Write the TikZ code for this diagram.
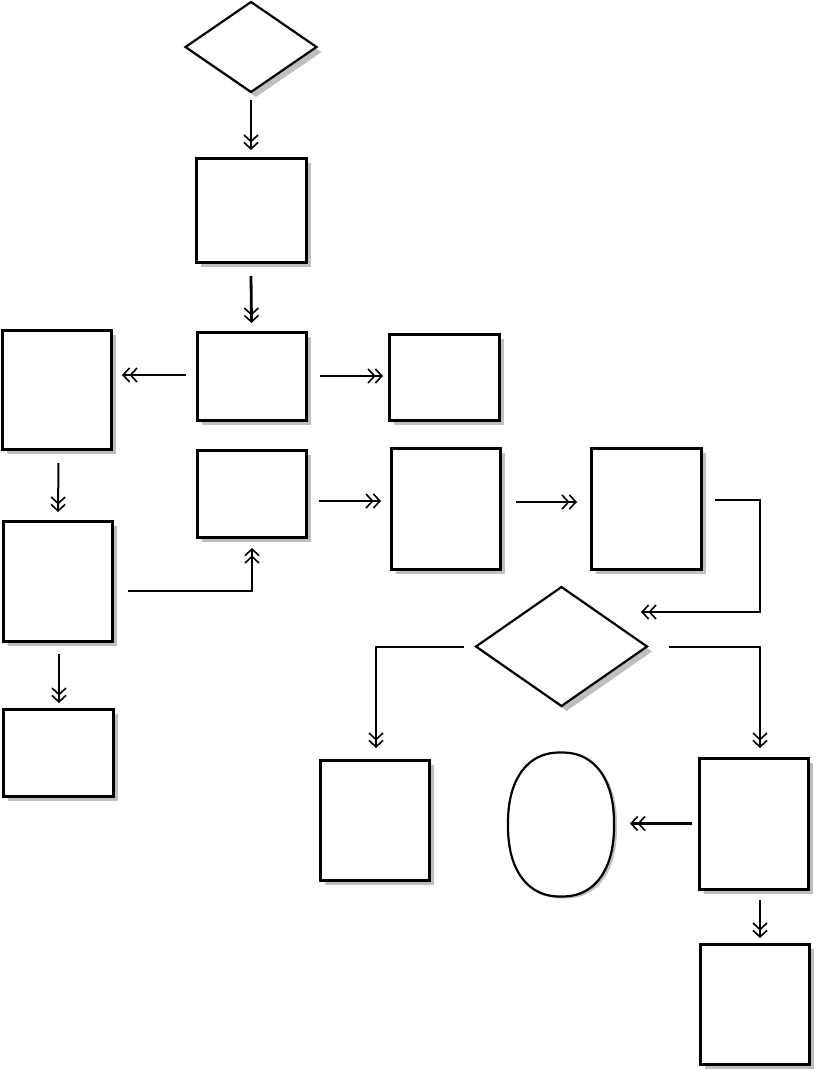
\documentclass[tikz,border=0pt]{standalone}
\usetikzlibrary{shapes.geometric,shadows,arrows.meta,calc}
\begin{document}
\begin{tikzpicture}[x=1pt,y=-1pt,
  shad/.style={drop shadow={shadow xshift=5pt,shadow yshift=-5pt,fill=black!25,opacity=1}},
  box/.style={draw,line width=3pt,fill=white,inner sep=0pt,outer sep=0pt,shad},
  dia/.style={diamond,draw,line width=2.2pt,fill=white,inner sep=0pt,outer sep=0pt,shad},
  arr/.style={line width=2pt,-{Straight Barb[length=6.5pt,width=14pt,line width=1.6pt,sep=-1pt]Straight Barb[length=6.5pt,width=14pt,line width=1.6pt]}},
  arrthick/.style={arr,line width=2.8pt}]
\useasboundingbox (0,0) rectangle (815,1070);
\fill[white] (0,0) rectangle (815,1070);
% nodes
\node[dia,minimum width=131pt,minimum height=90pt] (d1) at (251,47) {};
\node[box,minimum width=110pt,minimum height=104pt] (b1) at (251,210) {};
\node[box,minimum width=109pt,minimum height=88pt] (b2) at (251.5,376) {};
\node[box,minimum width=109pt,minimum height=119pt] (b3) at (56.5,389.5) {};
\node[box,minimum width=110pt,minimum height=86pt] (b4) at (444,377) {};
\node[box,minimum width=109pt,minimum height=87pt] (b5) at (251.5,493.5) {};
\node[box,minimum width=109pt,minimum height=121pt] (b6) at (445.5,508.5) {};
\node[box,minimum width=110pt,minimum height=121pt] (b7) at (646,508.5) {};
\node[dia,minimum width=171pt,minimum height=119pt] (d2) at (561.5,646.5) {};
\node[box,minimum width=109pt,minimum height=120pt] (b8) at (374.5,820) {};
\node[box,minimum width=109pt,minimum height=131pt] (b9) at (753.5,823.5) {};
\node[ellipse,minimum width=106pt,minimum height=144pt,inner sep=0pt,outer sep=0pt] (e1) at (561,824.5) {};
\fill[black!25,shift={($(e1.center)+(3,2)$)}] plot[domain=0:360,samples=120,smooth cycle]
  ({53*sign(cos(\x))*(abs(cos(\x))+0.0001)^0.87},{72*sign(sin(\x))*(abs(sin(\x))+0.0001)^0.87});
\draw[line width=2.2pt,fill=white,shift={(e1.center)}] plot[domain=0:360,samples=120,smooth cycle]
  ({53*sign(cos(\x))*(abs(cos(\x))+0.0001)^0.87},{72*sign(sin(\x))*(abs(sin(\x))+0.0001)^0.87});
\node[box,minimum width=109pt,minimum height=120pt] (b10) at (754.5,1004) {};
\node[box,minimum width=109pt,minimum height=120pt] (b11) at (57.5,581) {};
\node[box,minimum width=110pt,minimum height=87pt] (b12) at (58,752.5) {};
% connectors
\draw[arr] ($(d1.south)+(0,8)$) -- ($(b1.north)+(0,-8)$);
\draw[arrthick] ($(b1.south)+(0,14)$) -- ($(b2.north)+(0,-9)$);
\draw[arr] ($(b2.west)+(-11,-1)$) -- ($(b3.east)+(11,-14.5)$);
\draw[arr] ($(b2.east)+(14,0)$) -- ($(b4.west)+(-6,-1)$);
\draw[arr] ($(b5.east)+(13,7.5)$) -- ($(b6.west)+(-10,-7.5)$);
\draw[arr] ($(b6.east)+(16,-6.5)$) -- ($(b7.west)+(-14,-6.5)$);
\coordinate (e7) at ($(d2.center)+(79.5,-34.5)$);
\draw[arr] ($(b7.east)+(14,-8.5)$) -- ++(45,0) |- (e7);
\draw[arr] ($(d2.west)+(-12,0)$) -| ($(b8.north)+(1.5,-12)$);
\draw[arr] ($(d2.east)+(22,0)$) -| ($(b9.north)+(6.5,-10)$);
\coordinate (s10) at ($(b9.west)+(-7,0)$);
\coordinate (t10) at ($(e1.east)+(16,0)$);
\draw[arrthick] (s10) -- (s10 -| t10);
\draw[arr] ($(b9.south)+(6.5,11)$) -- ($(b10.north)+(5.5,-6)$);
\draw[arr] ($(b3.south)+(2,14)$) -- ($(b11.north)+(0.5,-9)$);
\draw[arr] ($(b11.south)+(1.5,13)$) -- ($(b12.north)+(1,-6)$);
\draw[arr] ($(b11.east)+(16,10)$) -| ($(b5.south)+(0.5,11)$);
\end{tikzpicture}
\end{document}
